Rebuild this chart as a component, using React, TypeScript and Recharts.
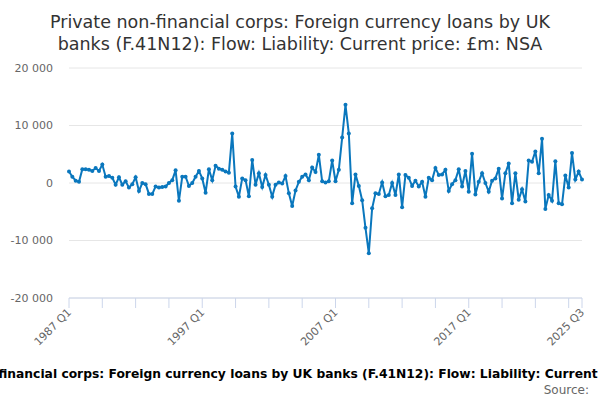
import { LineChart, Line, XAxis, YAxis, CartesianGrid } from 'recharts';

const titleLines = [
  'Private non-financial corps: Foreign currency loans by UK',
  'banks (F.41N12): Flow: Liability: Current price: £m: NSA',
];
const footerText =
  'Private non-financial corps: Foreign currency loans by UK banks (F.41N12): Flow: Liability: Current price: £m: NSA';
const sourceText = 'Source:';

const firstYear = 1987;

// quarterly flows, £m, 1987 Q1 .. 2025 Q3
const flows = [
  2000, 1100, 400, 200, 2400, 2400, 2300, 2100, 2600, 2100,
  3200, 1100, 1200, 900, -300, 1000, -300, 300, -800, -200,
  1000, -1400, 0, -200, -1900, -1900, -600, -800, -700, -600,
  0, 500, 2200, -3100, 1100, 1100, -500, 0, 1100, 2100,
  800, -1700, 2400, 500, 3000, 2500, 2300, 2000, 1800, 8600,
  -600, -2400, 800, 500, -2300, 4000, -300, 1700, -700, 1400,
  -300, -2400, -300, 100, -100, 1200, -1800, -4000, -1300, 200,
  1100, 1500, 500, 2700, 1900, 4900, 300, 100, 300, 3900,
  300, 2300, 7900, 13600, 8600, -3500, 1500, -500, -3000, -7800,
  -12200, -4400, -1800, -1900, 100, -2300, -2100, 0, -2100, 1500,
  -4200, 1400, 900, -500, 400, -600, 200, -2400, 900, 500,
  2600, 1400, 1500, 2300, -1400, -200, 500, 2400, -600, 2100,
  -1500, 5100, -2000, 200, 1700, 0, -1500, 400, 800, 2500,
  -2700, 1700, 3400, -3500, 1700, -2900, -1100, -3200, 3900, 3700,
  5500, 1700, 7700, -4500, -2100, -3100, 3800, -3500, -3700, 1300,
  -800, 5200, 600, 2000, 600,
];

const yTicks = [-20000, -10000, 0, 10000, 20000];
const labelledQuarters = ['1987 Q1', '1997 Q1', '2007 Q1', '2017 Q1', '2025 Q3'];

const quarters = flows.map((_, i) => `${firstYear + Math.floor(i / 4)} Q${(i % 4) + 1}`);
const data = flows.map((v, i) => ({ i, q: quarters[i], v }));
const xTicks = quarters
  .map((_, i) => i)
  .filter((i) => i % 10 === 0 || i === flows.length - 1);

const lineColor = '#0a77bd';
const axisColor = '#ccd6eb';
const labelColor = '#666666';

function fmt(n: number) {
  const s = Math.abs(n)
    .toString()
    .replace(/\B(?=(\d{3})+(?!\d))/g, ' ');
  return (n < 0 ? '-' : '') + s;
}

function QuarterTick(props: any) {
  const { x, y, payload } = props;
  const label = quarters[payload.value];
  if (!labelledQuarters.includes(label)) return <g />;
  const ax = x + 3;
  const ay = y + 3;
  return (
    <text
      x={ax}
      y={ay}
      textAnchor="end"
      fontSize={11}
      fill={labelColor}
      transform={`rotate(-45 ${ax} ${ay})`}
    >
      {label}
    </text>
  );
}

export default function App() {
  return (
    <div
      style={{
        position: 'absolute',
        left: 0,
        top: 0,
        width: 600,
        height: 400,
        overflow: 'hidden',
        background: '#fff',
        fontFamily: '"DejaVu Sans", sans-serif',
      }}
    >
      <LineChart
        width={600}
        height={400}
        data={data}
        margin={{ top: 68, right: 18, left: 0, bottom: 42 }}
      >
        <CartesianGrid stroke="#e6e6e6" vertical={false} />
        <XAxis
          dataKey="i"
          type="number"
          domain={[0, flows.length - 1]}
          ticks={xTicks}
          interval={0}
          height={60}
          stroke={axisColor}
          tickSize={10}
          tickMargin={2}
          tick={<QuarterTick />}
        />
        <YAxis
          type="number"
          domain={[-20000, 20000]}
          ticks={yTicks}
          width={69}
          axisLine={false}
          tickLine={false}
          tickSize={6}
          tickMargin={10}
          tick={{ fill: labelColor, fontSize: 11 }}
          tickFormatter={fmt}
        />
        <Line
          type="linear"
          dataKey="v"
          stroke={lineColor}
          strokeWidth={2}
          dot={{ r: 2, fill: lineColor, stroke: lineColor, strokeWidth: 0 }}
          isAnimationActive={false}
        />
      </LineChart>
      <svg
        width={600}
        height={400}
        style={{ position: 'absolute', left: 0, top: 0, pointerEvents: 'none' }}
      >
        {titleLines.map((t, k) => (
          <text key={t} x={300} y={28 + k * 22} textAnchor="middle" fontSize={17.5} fill="#333333">
            {t}
          </text>
        ))}
        <text x={-87} y={378} fontSize={12.3} fontWeight="bold" fill="#000000">
          {footerText}
        </text>
        <text x={589} y={394} textAnchor="end" fontSize={12} fill={labelColor}>
          {sourceText}
        </text>
      </svg>
    </div>
  );
}
